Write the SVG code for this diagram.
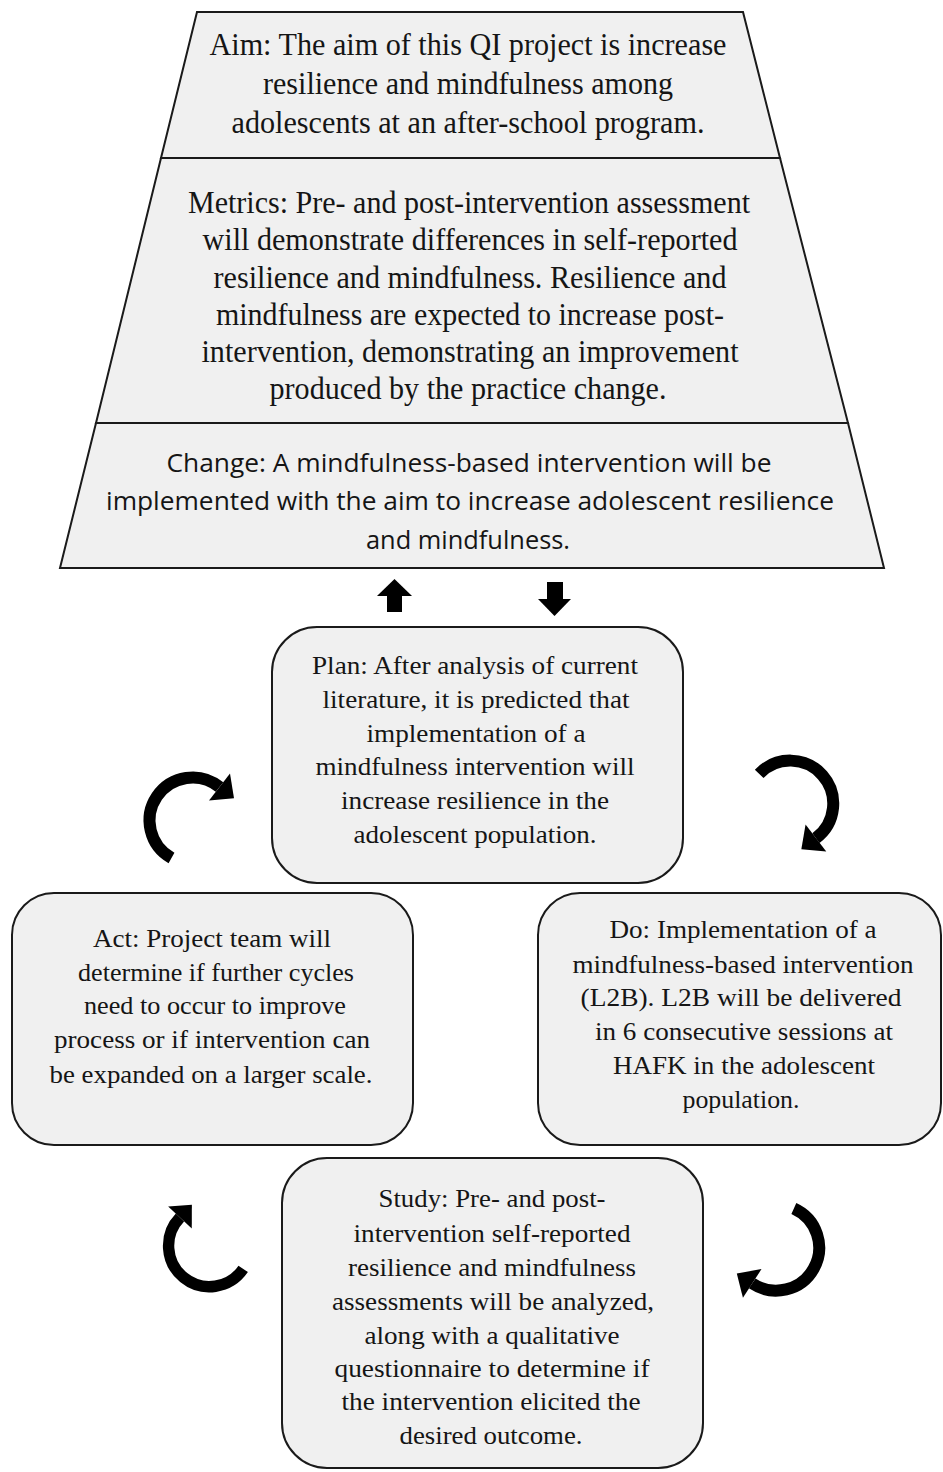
<svg xmlns="http://www.w3.org/2000/svg" width="943" height="1472" viewBox="0 0 943 1472">
<style>
.shape{fill:#f0f0f0;stroke:#1a1a1a;stroke-width:2}
.box{fill:#f0f0f0;stroke:#1a1a1a;stroke-width:2}
.t{font-family:"Liberation Serif","Times New Roman",serif;fill:#151515;text-anchor:middle}
.tl{font-size:31px}
.ts{font-size:26px}
.tc{font-family:"Open Sans","Noto Sans",sans-serif;font-size:25px;fill:#151515;text-anchor:middle}
.shaft{fill:none;stroke:#000;stroke-width:12}
</style>
<defs>
<g id="curl">
<path class="shaft" d="M -19.5 41 A 43 43 0 1 1 28.5 -30"/>
<polygon points="43,-18.7 39,-43.4 18,-16.6" fill="#000"/>
</g>
</defs>
<rect width="943" height="1472" fill="#fff"/>
<g id="aim">
<polygon class="shape" points="197,12 743,12 780,158 161,158"/>
<text class="t tl" x="468" y="55" textLength="517" lengthAdjust="spacingAndGlyphs">Aim: The aim of this QI project is increase</text>
<text class="t tl" x="468" y="94" textLength="410" lengthAdjust="spacingAndGlyphs">resilience and mindfulness among</text>
<text class="t tl" x="468" y="133" textLength="473" lengthAdjust="spacingAndGlyphs">adolescents at an after-school program.</text>
</g>
<g id="metrics">
<polygon class="shape" points="161,158 780,158 848,423 96,423"/>
<text class="t tl" x="469" y="213" textLength="562" lengthAdjust="spacingAndGlyphs">Metrics: Pre- and post-intervention assessment</text>
<text class="t tl" x="470" y="250" textLength="535" lengthAdjust="spacingAndGlyphs">will demonstrate differences in self-reported</text>
<text class="t tl" x="470" y="288" textLength="513" lengthAdjust="spacingAndGlyphs">resilience and mindfulness. Resilience and</text>
<text class="t tl" x="470" y="325" textLength="508" lengthAdjust="spacingAndGlyphs">mindfulness are expected to increase post-</text>
<text class="t tl" x="470" y="362" textLength="537" lengthAdjust="spacingAndGlyphs">intervention, demonstrating an improvement</text>
<text class="t tl" x="468" y="399" textLength="397" lengthAdjust="spacingAndGlyphs">produced by the practice change.</text>
</g>
<g id="change">
<polygon class="shape" points="96,423 848,423 884,568 60,568"/>
<text class="tc" x="469" y="472" textLength="605" lengthAdjust="spacingAndGlyphs">Change: A mindfulness-based intervention will be</text>
<text class="tc" x="470" y="510" textLength="728" lengthAdjust="spacingAndGlyphs">implemented with the aim to increase adolescent resilience</text>
<text class="tc" x="468" y="549" textLength="204" lengthAdjust="spacingAndGlyphs">and mindfulness.</text>
</g>
<g id="plan">
<rect class="box" x="272" y="627" width="411" height="256" rx="45" ry="45"/>
<text class="t ts" x="475" y="674" textLength="326" lengthAdjust="spacingAndGlyphs">Plan: After analysis of current</text>
<text class="t ts" x="476" y="708" textLength="307" lengthAdjust="spacingAndGlyphs">literature, it is predicted that</text>
<text class="t ts" x="476" y="742" textLength="219" lengthAdjust="spacingAndGlyphs">implementation of a</text>
<text class="t ts" x="475" y="775" textLength="319" lengthAdjust="spacingAndGlyphs">mindfulness intervention will</text>
<text class="t ts" x="475" y="809" textLength="268" lengthAdjust="spacingAndGlyphs">increase resilience in the</text>
<text class="t ts" x="475" y="843" textLength="243" lengthAdjust="spacingAndGlyphs">adolescent population.</text>
</g>
<g id="act">
<rect class="box" x="12" y="893" width="401" height="252" rx="42" ry="42"/>
<text class="t ts" x="212" y="947" textLength="238" lengthAdjust="spacingAndGlyphs">Act: Project team will</text>
<text class="t ts" x="216" y="981" textLength="276" lengthAdjust="spacingAndGlyphs">determine if further cycles</text>
<text class="t ts" x="215" y="1014" textLength="262" lengthAdjust="spacingAndGlyphs">need to occur to improve</text>
<text class="t ts" x="212" y="1048" textLength="316" lengthAdjust="spacingAndGlyphs">process or if intervention can</text>
<text class="t ts" x="211" y="1083" textLength="323" lengthAdjust="spacingAndGlyphs">be expanded on a larger scale.</text>
</g>
<g id="do">
<rect class="box" x="538" y="893" width="403" height="252" rx="42" ry="42"/>
<text class="t ts" x="743" y="938" textLength="267" lengthAdjust="spacingAndGlyphs">Do: Implementation of a</text>
<text class="t ts" x="743" y="973" textLength="341" lengthAdjust="spacingAndGlyphs">mindfulness-based intervention</text>
<text class="t ts" x="741" y="1006" textLength="321" lengthAdjust="spacingAndGlyphs">(L2B). L2B will be delivered</text>
<text class="t ts" x="744" y="1040" textLength="298" lengthAdjust="spacingAndGlyphs">in 6 consecutive sessions at</text>
<text class="t ts" x="744" y="1074" textLength="262" lengthAdjust="spacingAndGlyphs">HAFK in the adolescent</text>
<text class="t ts" x="741" y="1108" textLength="117" lengthAdjust="spacingAndGlyphs">population.</text>
</g>
<g id="study">
<rect class="box" x="282" y="1158" width="421" height="310" rx="45" ry="45"/>
<text class="t ts" x="492" y="1207" textLength="227" lengthAdjust="spacingAndGlyphs">Study: Pre- and post-</text>
<text class="t ts" x="492" y="1242" textLength="277" lengthAdjust="spacingAndGlyphs">intervention self-reported</text>
<text class="t ts" x="492" y="1276" textLength="288" lengthAdjust="spacingAndGlyphs">resilience and mindfulness</text>
<text class="t ts" x="493" y="1310" textLength="322" lengthAdjust="spacingAndGlyphs">assessments will be analyzed,</text>
<text class="t ts" x="492" y="1344" textLength="255" lengthAdjust="spacingAndGlyphs">along with a qualitative</text>
<text class="t ts" x="492" y="1377" textLength="315" lengthAdjust="spacingAndGlyphs">questionnaire to determine if</text>
<text class="t ts" x="491" y="1410" textLength="299" lengthAdjust="spacingAndGlyphs">the intervention elicited the</text>
<text class="t ts" x="491" y="1444" textLength="183" lengthAdjust="spacingAndGlyphs">desired outcome.</text>
</g>
<g id="connectors">
<g id="arrow-up">
<rect x="387" y="594" width="15" height="18" fill="#000"/>
<polygon points="377,596 412,596 394.5,579" fill="#000"/>
</g>
<g id="arrow-down">
<rect x="547" y="582" width="16" height="18" fill="#000"/>
<polygon points="538,599 571,599 554.5,616" fill="#000"/>
</g>
<use href="#curl" transform="translate(191,817)"/>
<use href="#curl" transform="translate(794,803) rotate(104.5)"/>
<use href="#curl" transform="translate(206,1247) rotate(-85) scale(0.95)"/>
<use href="#curl" transform="translate(778,1251) rotate(175)"/>
</g>
</svg>
